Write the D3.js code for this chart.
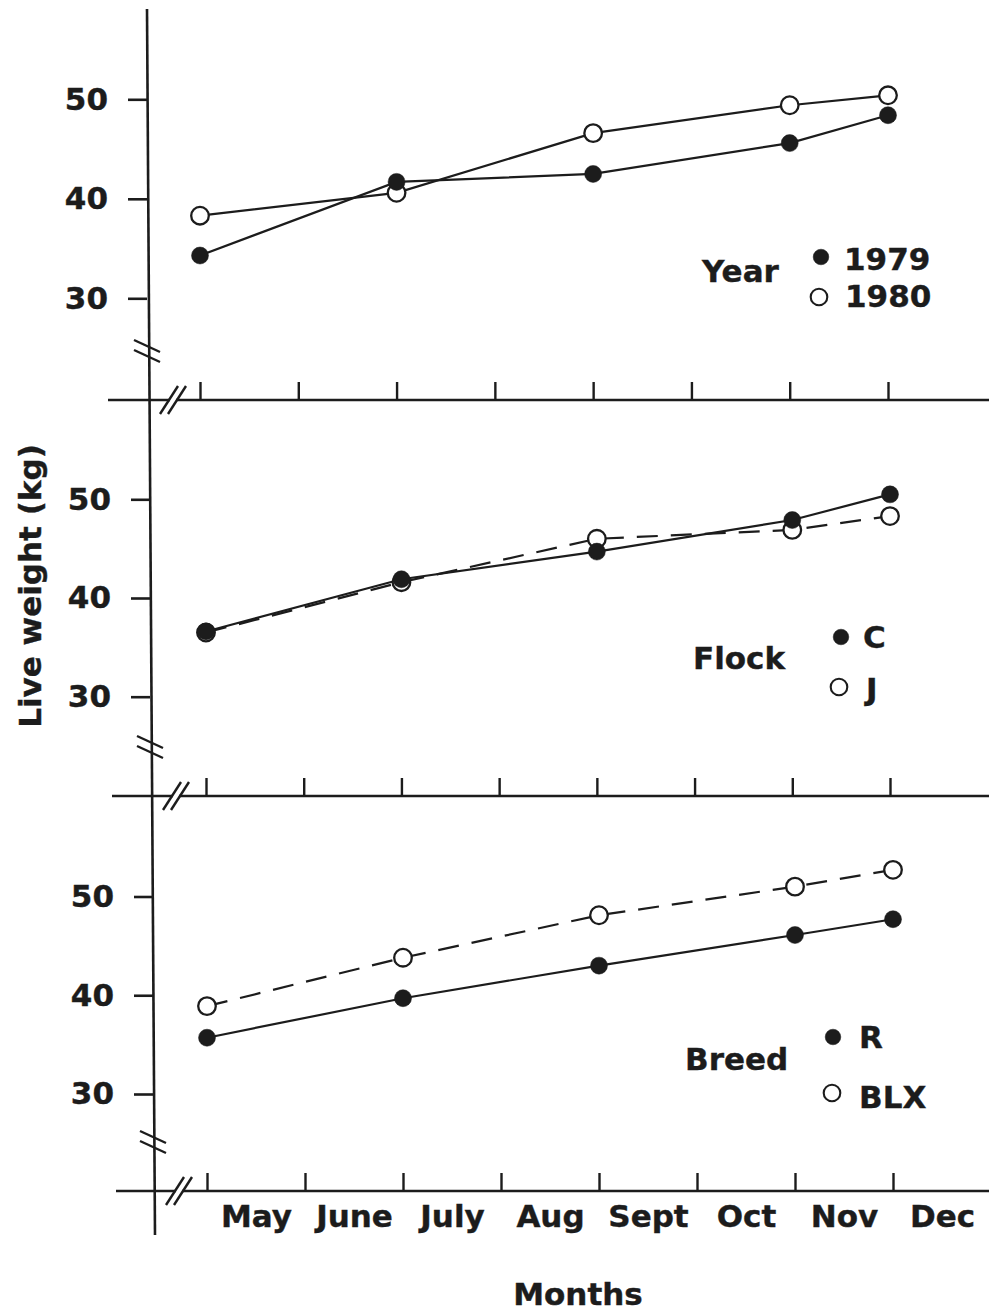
<!DOCTYPE html>
<html><head><meta charset="utf-8">
<script src="https://cdn.jsdelivr.net/npm/d3@7"></script>
<style>
body{margin:0;background:#fff;}
svg{display:block;background:#fff;}
text{font-family:"DejaVu Sans",sans-serif;font-weight:bold;fill:#1c1c1c;stroke:#1c1c1c;stroke-width:0.4px;}
</style></head><body>
<svg id="c" width="989" height="1312"></svg>
<script>
// ---------- data ----------
const monthLabels = ["May", "June", "July", "Aug", "Sept", "Oct", "Nov", "Dec"];
const tickIndex = [0, 1, 2, 3, 4, 5, 6, 7];
const sampleIndex = [0, 2, 4, 6, 7];
const yTicks = [30, 40, 50];

const year1979 = [34.3, 41.7, 42.5, 45.6, 48.4];
const year1980 = [38.3, 40.6, 46.6, 49.4, 50.4];
const flockC   = [36.6, 41.9, 44.7, 47.9, 50.5];
const flockJ   = [36.5, 41.6, 46.0, 46.9, 48.3];
const breedR   = [35.7, 39.7, 43.0, 46.1, 47.7];
const breedBLX = [38.9, 43.8, 48.1, 51.0, 52.7];

const panelTitles = ["Year", "Flock", "Breed"];
const seriesLabels = [["1979", "1980"], ["C", "J"], ["R", "BLX"]];
const seriesValues = [[year1979, year1980], [flockC, flockJ], [breedR, breedBLX]];
const seriesDashed = [[false, false], [false, true], [false, true]];

// ---------- layout ----------
const ink = "#1c1c1c";
const layout = [
  {axisX:147, axisY:400, xRange:[200,888], yRange:[298.3,99.3], lineStart:108,
   title:{x:702, y:282}, dotX:[821,819], rowDotY:[257,297], textX:[844,845], rowTextY:[270,307]},
  {axisX:150, axisY:796, xRange:[206,890], yRange:[696.7,499.3], lineStart:112,
   title:{x:693, y:669}, dotX:[841,839], rowDotY:[637,687], textX:[863,866], rowTextY:[648,700]},
  {axisX:153, axisY:1191, xRange:[207,893], yRange:[1094,896.5], lineStart:116,
   title:{x:685, y:1070}, dotX:[833,832], rowDotY:[1037,1093], textX:[859,859], rowTextY:[1048,1108]}
];

const svg = d3.select("#c");

// vertical (y) axis line, slightly skewed as in the scan
svg.append("line").attr("x1",147).attr("y1",9).attr("x2",155).attr("y2",1235)
  .attr("stroke",ink).attr("stroke-width",2.6);

layout.forEach((L, p) => {
  const x = d3.scaleLinear().domain([0, 7]).range(L.xRange);
  const y = d3.scaleLinear().domain([30, 50]).range(L.yRange);
  const g = svg.append("g");

  // y ticks
  const ya = g.append("g").attr("transform", `translate(${L.axisX},0)`)
    .call(d3.axisLeft(y).tickValues(yTicks).tickSize(19).tickPadding(20).tickFormat(d3.format("d")));
  ya.select(".domain").remove();
  ya.selectAll(".tick line").attr("stroke", ink).attr("stroke-width", 2.6);
  ya.selectAll(".tick text").style("font-size","31px").attr("fill", ink)
    .attr("font-family", null);

  // x axis line
  g.append("line").attr("x1", L.lineStart).attr("x2", 989)
    .attr("y1", L.axisY).attr("y2", L.axisY).attr("stroke", ink).attr("stroke-width", 2.6);

  // x ticks (upward)
  const xa = g.append("g").attr("transform", `translate(0,${L.axisY})`)
    .call(d3.axisBottom(x).tickValues(tickIndex).tickSize(-18).tickFormat(""));
  xa.select(".domain").remove();
  xa.selectAll(".tick line").attr("stroke", ink).attr("stroke-width", 2.4);

  // month labels on bottom panel
  if (p === 2) {
    const ma = g.append("g").attr("transform", `translate(0,${L.axisY})`)
      .call(d3.axisBottom(x).tickValues(tickIndex.map(i => i + 0.5)).tickSize(0).tickPadding(14)
        .tickFormat((d, i) => monthLabels[i]));
    ma.select(".domain").remove();
    ma.selectAll(".tick text").style("font-size","31px").attr("fill", ink).attr("font-family", null)
      .attr("dy", "0.71em");
  }

  // axis break marks on y axis (two parallel strokes)
  const by = L.axisY - 49;
  [-5, 5].forEach(o => {
    g.append("line").attr("x1", L.axisX - 13).attr("y1", by + o - 6)
      .attr("x2", L.axisX + 13).attr("y2", by + o + 6)
      .attr("stroke", ink).attr("stroke-width", 2.4);
  });
  // axis break marks on x axis
  const bx = L.axisX + 26;
  g.append("rect").attr("x", bx - 3).attr("y", L.axisY - 3).attr("width", 6).attr("height", 6).attr("fill", "#fff");
  [-4, 4].forEach(o => {
    g.append("line").attr("x1", bx + o - 9).attr("y1", L.axisY + 14)
      .attr("x2", bx + o + 9).attr("y2", L.axisY - 14)
      .attr("stroke", ink).attr("stroke-width", 2.4);
  });

  // series
  const line = d3.line().x((d, i) => x(sampleIndex[i])).y(d => y(d));
  seriesValues[p].forEach((vals, s) => {
    g.append("path").datum(vals).attr("d", line).attr("fill", "none")
      .attr("stroke", ink).attr("stroke-width", 2.2)
      .attr("stroke-dasharray", seriesDashed[p][s] ? "21,13" : null);
  });
  // markers: open first, filled on top
  [1, 0].forEach(s => {
    const filled = s === 0;
    g.selectAll(null).data(seriesValues[p][s]).enter().append("circle")
      .attr("cx", (d, i) => x(sampleIndex[i])).attr("cy", d => y(d))
      .attr("r", filled ? 8.5 : 8.8)
      .attr("fill", filled ? ink : "#fff")
      .attr("stroke", ink).attr("stroke-width", filled ? 0.5 : 2.3);
  });

  // legend
  g.append("text").attr("x", L.title.x).attr("y", L.title.y).style("font-size","31px").text(panelTitles[p]);
  seriesLabels[p].forEach((lab, s) => {
    const filled = s === 0;
    g.append("circle").attr("cx", L.dotX[s]).attr("cy", L.rowDotY[s]).attr("r", filled ? 7.8 : 8.3)
      .attr("fill", filled ? ink : "#fff").attr("stroke", ink).attr("stroke-width", filled ? 0.5 : 2.1);
    g.append("text").attr("x", L.textX[s]).attr("y", L.rowTextY[s]).style("font-size","31px").text(lab);
  });
});

// axis titles
svg.append("text").attr("transform", "translate(41,586) rotate(-90)").attr("text-anchor","middle")
  .style("font-size","31px").text("Live weight (kg)");
svg.append("text").attr("x", 578).attr("y", 1305).attr("text-anchor","middle")
  .style("font-size","31px").text("Months");
</script>
</body></html>
